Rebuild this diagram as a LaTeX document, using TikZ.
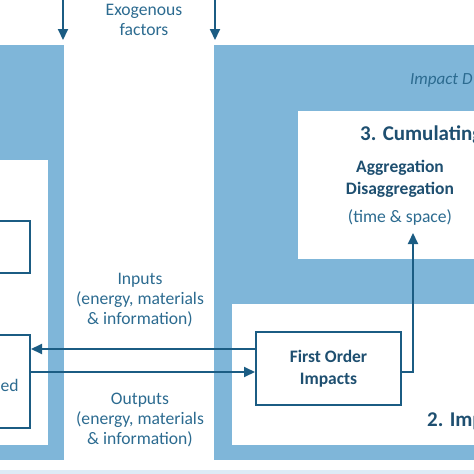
\documentclass[tikz,border=0pt]{standalone}
\usepackage{fontspec}
\setmainfont{Carlito}
\usetikzlibrary{arrows.meta}
\definecolor{bandblue}{HTML}{7FB6D9}
\definecolor{paleblue}{HTML}{DDEBF6}
\definecolor{darkline}{HTML}{1B5C83}
\definecolor{txtblue}{HTML}{2C6B90}
\definecolor{boldblue}{HTML}{1E4F70}
\tikzset{
  band/.style={fill=bandblue, draw=none},
  hole/.style={fill=white, draw=none},
  box/.style={draw=darkline, line width=2pt, fill=white, inner sep=0pt, anchor=north west},
  arr/.style={draw=darkline, line width=2pt, -{Triangle[length=11pt,width=10pt]}},
  lbl/.style={text=txtblue, font=\fontsize{17.6}{20}\selectfont, align=center, inner sep=0pt},
  blbl/.style={text=boldblue, font=\fontsize{17.5}{22}\selectfont\bfseries, align=center, inner sep=0pt},
  title/.style={text=boldblue, font=\fontsize{21}{24}\selectfont\bfseries, inner sep=0pt},
}
\begin{document}
\begin{tikzpicture}[x=1pt,y=-1pt]
\useasboundingbox (0,0) rectangle (474,474);
\clip (0,0) rectangle (474,474);
% background bands
\fill[band] (0,45) rectangle (64,460);
\fill[hole] (0,160) rectangle (48,445);
\fill[band] (214,45) rectangle (474,460);
\fill[hole] (298,111) rectangle (474,259);
\fill[hole] (232,304) rectangle (474,445);
\fill[paleblue] (0,470) rectangle (474,474);
% boxes
\node[box, minimum width=31pt, minimum height=52pt] (lt) at (-2,220) {};
\node[box, minimum width=31pt, minimum height=93pt] (lb) at (-2,334) {};
\node[box, minimum width=145pt, minimum height=73pt] (fo) at (255,331) {};
\node[blbl] (fotxt) at (fo.center) {First Order\\Impacts};
\node[lbl, anchor=west] (ed) at (0.5,385) {ed};
% texts
\node[lbl] (exo) at (144,20) {Exogenous\\factors};
\node[lbl] (inp) at (140,300) {Inputs\\(energy, materials\\\& information)};
\node[lbl] (outp) at (140,420) {Outputs\\(energy, materials\\\& information)};
\node[title, anchor=west] (t3) at (360,135) {3. Cumulating};
\node[blbl] (agg) at (400,179) {Aggregation\\Disaggregation};
\node[lbl] (ts) at (400,217) {(time \& space)};
\node[text=txtblue, font=\fontsize{17}{20}\selectfont\itshape, anchor=west, inner sep=0pt] (imd) at (410,80) {Impact D};
\node[title, anchor=west] (t2) at (427,421) {2. Imp};
% arrows
\coordinate (ex1) at (63,0);
\coordinate (ex1e) at (63,40);
\coordinate (ex2) at (215,0);
\coordinate (ex2e) at (215,40);
\draw[arr] (ex1) -- (ex1e);
\draw[arr] (ex2) -- (ex2e);
\coordinate (inY) at (0,349);
\coordinate (outY) at (0,372);
\draw[arr] (fo.west |- inY) -- (lb.east |- inY);
\draw[arr] (lb.east |- outY) -- (fo.west |- outY);
\coordinate (up) at (413,233);
\draw[arr] (fo.east |- outY) -| (up);
\end{tikzpicture}
\end{document}
